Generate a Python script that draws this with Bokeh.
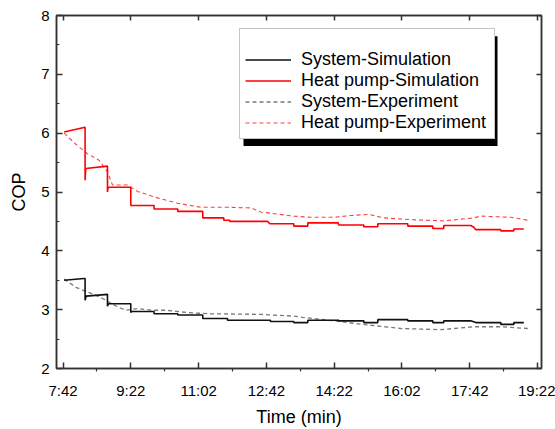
from bokeh.plotting import figure
from bokeh.models import (Legend, LegendItem, LinearAxis, FixedTicker, Range1d, BoxAnnotation)
from bokeh.embed import file_html
from bokeh.resources import INLINE

# ---------------- data (time in minutes of the day, COP) ----------------
tick_labels = ["7:42", "9:22", "11:02", "12:42", "14:22", "16:02", "17:42", "19:22"]
y_ticks = [2, 3, 4, 5, 6, 7, 8]

hp_sim_t = [463.5, 494.5, 494.5, 495.5, 527.5, 527.5, 528.5, 561.9, 561.9, 596.3, 596.3,
            631.3, 631.3, 668.1, 668.1, 699.1, 699.1, 708.0, 708.0, 764.0, 767.0, 802.4,
            802.4, 823.1, 823.1, 867.3, 867.3, 868.8, 905.7, 905.7, 926.4, 926.4, 970.6,
            970.6, 1007.5, 1007.5, 1023.7, 1023.7, 1063.6, 1068.0, 1070.9, 1107.9, 1107.9,
            1127.1, 1127.1, 1141.8]
hp_sim_cop = [6.02, 6.10, 5.20, 5.40, 5.44, 5.00, 5.08, 5.08, 4.77, 4.77, 4.71,
              4.71, 4.67, 4.67, 4.56, 4.56, 4.52, 4.52, 4.50, 4.50, 4.46, 4.46,
              4.42, 4.42, 4.475, 4.475, 4.49, 4.44, 4.44, 4.41, 4.41, 4.46, 4.46,
              4.42, 4.42, 4.38, 4.38, 4.43, 4.43, 4.40, 4.36, 4.36, 4.34,
              4.34, 4.37, 4.37]

sys_sim_t = [463.5, 493.0, 494.5, 494.5, 496.0, 527.5, 527.5, 529.0, 561.9, 561.9, 563.0,
             596.3, 596.3, 631.3, 631.3, 668.1, 668.1, 704.6, 704.6, 768.0, 768.0, 802.4,
             802.4, 823.1, 823.1, 867.3, 867.3, 868.8, 905.7, 905.7, 926.4, 926.4, 970.6,
             970.6, 1007.5, 1007.5, 1023.7, 1023.7, 1063.6, 1070.9, 1107.9, 1107.9, 1127.1,
             1127.1, 1141.8]
sys_sim_cop = [3.50, 3.53, 3.53, 3.16, 3.23, 3.26, 3.06, 3.10, 3.10, 2.95, 2.97,
               2.97, 2.93, 2.93, 2.91, 2.91, 2.85, 2.85, 2.82, 2.82, 2.80, 2.80,
               2.78, 2.78, 2.82, 2.82, 2.83, 2.81, 2.81, 2.78, 2.78, 2.83, 2.83,
               2.81, 2.81, 2.78, 2.78, 2.81, 2.81, 2.78, 2.78, 2.75, 2.75,
               2.78, 2.78]

sys_exp_t = [463.5, 481.0, 498.0, 515.1, 525.0, 537.0, 554.0, 571.8, 593.9, 613.5, 645.6,
             679.9, 753.7, 802.4, 815.0, 861.4, 911.6, 960.3, 1019.3, 1068.0, 1107.9, 1147.7]
sys_exp_cop = [3.52, 3.38, 3.30, 3.22, 3.16, 3.08, 2.99, 3.02, 2.99, 2.99, 2.95,
               2.93, 2.92, 2.89, 2.87, 2.81, 2.74, 2.68, 2.66, 2.71, 2.71, 2.68]

hp_exp_t = [463.5, 480.0, 498.0, 515.1, 527.5, 534.9, 557.0, 571.8, 601.3, 630.8, 665.2,
            704.6, 739.0, 753.7, 802.4, 827.5, 861.4, 886.5, 913.1, 935.2, 975.0, 1023.7,
            1068.0, 1078.3, 1122.6, 1147.7]
hp_exp_cop = [6.00, 5.82, 5.65, 5.54, 5.34, 5.12, 5.12, 5.01, 4.90, 4.81, 4.74,
              4.74, 4.73, 4.66, 4.59, 4.57, 4.57, 4.60, 4.62, 4.56, 4.53, 4.51,
              4.56, 4.59, 4.57, 4.52]

series_names = ["System-Simulation", "Heat pump-Simulation", "System-Experiment",
                "Heat pump-Experiment"]

# ---------------- figure ----------------
FONT = "Liberation Sans"
AXC = "#333333"
X0, X1, Y0, Y1 = 452.3, 1167.9, 2, 8
FL, FT, FW, FH = 56, 15, 485, 357   # frame left/top/width/height in pixels

tick_minutes = [int(s.split(":")[0]) * 60 + int(s.split(":")[1]) for s in tick_labels]
minor_minutes = [(a + b) / 2 for a, b in zip(tick_minutes[:-1], tick_minutes[1:])]
y_minor = [v + 0.5 for v in y_ticks[:-1]]

p = figure(width=555, height=429, output_backend="svg", toolbar_location=None,
           x_range=Range1d(X0, X1), y_range=Range1d(Y0, Y1),
           x_axis_location=None, y_axis_location=None,
           min_border_left=FL, min_border_right=555 - FL - FW, min_border_top=FT,
           min_border_bottom=429 - FT - FH)
p.xgrid.visible = False
p.ygrid.visible = False
p.outline_line_color = AXC
p.outline_line_width = 1.5
p.background_fill_color = "white"
p.border_fill_color = "white"


def style_axis(ax):
    ax.axis_line_color = AXC
    ax.axis_line_width = 1.5
    ax.major_tick_line_color = AXC
    ax.minor_tick_line_color = AXC
    ax.major_tick_line_width = 1.5
    ax.minor_tick_line_width = 1.2
    ax.major_tick_out = 0
    ax.minor_tick_out = 0
    ax.major_label_text_font = FONT
    ax.major_label_text_font_size = "15px"
    ax.major_label_text_color = "black"
    ax.axis_label_text_font = FONT
    ax.axis_label_text_font_size = "18px"
    ax.axis_label_text_font_style = "normal"
    ax.axis_label_text_color = "black"


xb = LinearAxis(ticker=FixedTicker(ticks=tick_minutes, minor_ticks=minor_minutes),
                axis_label="Time (min)")
style_axis(xb)
xb.major_tick_in = 6
xb.minor_tick_in = 0
xb.minor_tick_out = 3
xb.major_label_standoff = 10
xb.axis_label_standoff = 5
xb.major_label_overrides = {m: s for m, s in zip(tick_minutes, tick_labels)}
p.add_layout(xb, "below")

yl = LinearAxis(ticker=FixedTicker(ticks=y_ticks, minor_ticks=y_minor), axis_label="COP")
style_axis(yl)
yl.major_tick_in = 6
yl.minor_tick_in = 3
yl.major_label_standoff = 7
yl.axis_label_standoff = 9
p.add_layout(yl, "left")

xt = LinearAxis(ticker=FixedTicker(ticks=tick_minutes, minor_ticks=[]))
style_axis(xt)
xt.major_tick_in = 5
xt.major_label_standoff = 0
xt.major_label_overrides = {m: "" for m in tick_minutes}
p.add_layout(xt, "above")

yr = LinearAxis(ticker=FixedTicker(ticks=y_ticks, minor_ticks=[]))
style_axis(yr)
yr.major_tick_in = 5
yr.major_label_standoff = 0
yr.major_label_overrides = {v: "" for v in y_ticks}
p.add_layout(yr, "right")

# ---------------- series ----------------
r_sys_exp = p.line(sys_exp_t, sys_exp_cop, line_color="#7a7a7a", line_width=1.3,
                   line_dash="4 3")
r_hp_exp = p.line(hp_exp_t, hp_exp_cop, line_color="#ff4040", line_width=1.1,
                  line_dash="4 3")
r_sys_sim = p.line(sys_sim_t, sys_sim_cop, line_color="#111111", line_width=1.6)
r_hp_sim = p.line(hp_sim_t, hp_sim_cop, line_color="#ff0000", line_width=1.6)

renderers = [r_sys_sim, r_hp_sim, r_sys_exp, r_hp_exp]

# ---------------- legend with drop shadow ----------------
LG_LEFT, LG_TOP, LG_W, LG_H, SH = 239, 32, 254, 111, 4


def px_to_x(px):
    return X0 + (px - FL) * (X1 - X0) / FW


def py_to_y(py):
    return Y1 - (py - FT) * (Y1 - Y0) / FH


shadow = BoxAnnotation(left=px_to_x(LG_LEFT + SH), right=px_to_x(LG_LEFT + LG_W + SH),
                       top=py_to_y(LG_TOP + SH), bottom=py_to_y(LG_TOP + LG_H + SH),
                       fill_color="black", fill_alpha=1.0, line_color=None)
p.add_layout(shadow)

lg = Legend(items=[LegendItem(label=n, renderers=[r]) for n, r in zip(series_names, renderers)],
            location=(LG_LEFT - FL, FT + FH - (LG_TOP + LG_H)))
lg.title = " "
lg.title_text_font_size = "7px"
lg.title_standoff = 8
lg.padding = 5
lg.spacing = 0
lg.margin = 0
lg.glyph_width = 46
lg.glyph_height = 21
lg.label_height = 21
lg.label_width = 188
lg.label_standoff = 10
lg.label_text_font = FONT
lg.label_text_font_size = "18px"
lg.label_text_color = "black"
lg.border_line_width = 1.5
lg.background_fill_color = "white"
lg.background_fill_alpha = 1.0
lg.border_line_color = "#8a8a8a"
p.add_layout(lg, "center")

open("out.html", "w").write(file_html(p, INLINE))
